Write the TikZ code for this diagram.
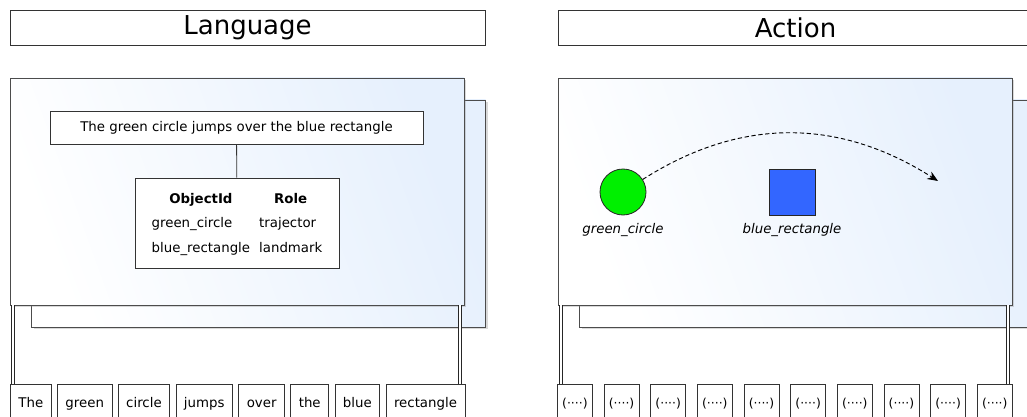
\documentclass[tikz,border=0pt]{standalone}
\usepackage{fontspec}
\setmainfont{DejaVu Sans}
\usetikzlibrary{positioning,shadows,arrows.meta}
\definecolor{panelblue}{RGB}{230,240,253}
\definecolor{shapegreen}{RGB}{0,240,0}
\definecolor{shapeblue}{RGB}{51,102,255}

\begin{document}
\begin{tikzpicture}[x=0.75pt,y=-0.75pt,
   head/.style={draw=black!80,line width=0.6pt,fill=white,minimum width=356.25pt,minimum height=26.25pt,
                font=\fontsize{19.5}{24}\selectfont},
   panel/.style={draw=black!70,line width=0.6pt,left color=white,right color=panelblue,
                 shading angle=110,
                 minimum width=340.5pt,minimum height=170.25pt,
                 drop shadow={shadow xshift=1.8pt,shadow yshift=-1.8pt,opacity=0.3}},
   box/.style={draw=black!80,line width=0.6pt,fill=white},
   word/.style={box,minimum height=30pt,inner xsep=6pt,text height=7.3pt,text depth=2.2pt},
   dots/.style={box,anchor=north west,minimum width=26.25pt,minimum height=30pt,inner xsep=1pt,
                text height=6.6pt,text depth=2pt,font=\fontsize{9.3}{10}\selectfont},
   rail/.style={draw=black!85,line width=0.6pt,double=white,double distance=1.8pt},
   lbl/.style={font=\itshape}]
   \useasboundingbox (0,0) rectangle (1027,417);

   % language side
   \node[head] (l_head) at (247.5,27.5) {Language};
   \node[panel] (l_back)  at (258.5,213.5) {};
   \node[panel] (l_front) at (237,191.5) {};
   \node[box,minimum width=279.75pt,minimum height=24.75pt] (sent) at (236.5,127.5)
        {The green circle jumps over the blue rectangle};
   \node[box,minimum width=153pt,minimum height=67.5pt] (tab) at (237,223)
        {\setlength{\tabcolsep}{3.4pt}\renewcommand{\arraystretch}{1.55}%
         \begin{tabular}{ll}
           \multicolumn{1}{c}{\textbf{ObjectId}} & \multicolumn{1}{c}{\textbf{Role}}\\
           green\_circle & trajector\\
           blue\_rectangle & landmark
         \end{tabular}};
   \draw[black!80,line width=0.6pt] (sent) -- (tab);

   \node[word,anchor=north west] (w_1) at (10,384) {The};
   \node[word] (w_2) [right=4.1pt of w_1] {green};
   \node[word] (w_3) [right=4.1pt of w_2] {circle};
   \node[word] (w_4) [right=4.1pt of w_3] {jumps};
   \node[word] (w_5) [right=4.1pt of w_4] {over};
   \node[word] (w_6) [right=4.1pt of w_5] {the};
   \node[word] (w_7) [right=4.1pt of w_6] {blue};
   \node[word] (w_8) [right=4.1pt of w_7] {rectangle};

   \coordinate (l_in)  at ([xshift=2.6pt]l_front.south west);
   \coordinate (l_out) at ([xshift=-3.4pt]l_front.south east);
   \draw[rail] (l_in) -- (l_in |- w_1.north);
   \draw[rail] (l_out) -- (l_out |- w_8.north);

   % action side
   \node[head] (a_head) at (795.5,27.5) {Action};
   \node[panel] (a_back)  at (806.5,213.5) {};
   \node[panel] (a_front) at (785,191.5) {};
   \node[circle,draw=black!85,line width=0.6pt,fill=shapegreen,minimum size=34.5pt,inner sep=0pt] (circ) at (623,192) {};
   \node[draw=black!85,line width=0.6pt,fill=shapeblue,minimum size=34.5pt,inner sep=0pt] (rect) at (792,192) {};
   \node[lbl] (circ_lbl) [below=2.5pt of circ] {green\_circle};
   \node[lbl] (rect_lbl) [below=2.5pt of rect] {blue\_rectangle};
   \coordinate (jump_end) at (938,181);
   \draw[-{Stealth[length=8pt,width=6.5pt]},line width=0.7pt,dash pattern=on 3.2pt off 2pt]
        (circ) .. controls (740.7,117) and (839,118) .. (jump_end);

   \foreach \i in {1,...,10}
     \node[dots] (e_\i) at ({557+46.65*(\i-1)},384) {(····)};

   \coordinate (a_in)  at ([xshift=2.6pt]a_front.south west);
   \coordinate (a_out) at ([xshift=-3.4pt]a_front.south east);
   \draw[rail] (a_in) -- (a_in |- e_1.north);
   \draw[rail] (a_out) -- (a_out |- e_10.north);
\end{tikzpicture}
\end{document}
